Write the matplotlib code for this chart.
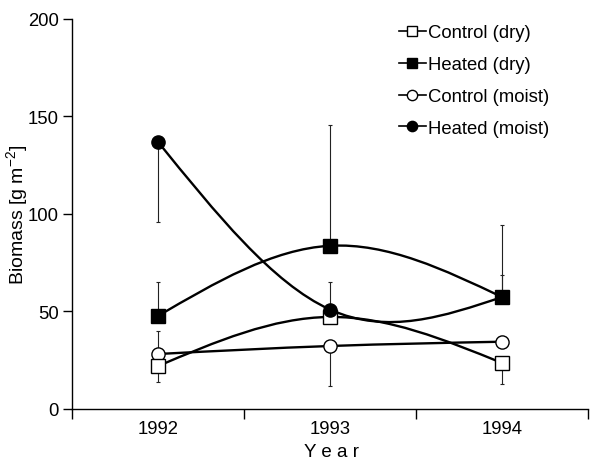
import matplotlib
matplotlib.use('Agg')
import matplotlib.pyplot as plt
import numpy as np
from matplotlib.path import Path
from matplotlib.patches import PathPatch
from matplotlib.lines import Line2D
from matplotlib.ticker import FixedLocator, NullFormatter, FixedFormatter

plt.rcParams['font.family'] = ['Liberation Sans', 'DejaVu Sans']

# ---- data ----
years = ['1992', '1993', '1994']
series_names = ['Control (dry)', 'Heated (dry)', 'Control (moist)', 'Heated (moist)']
control_dry = [22.0, 47.2, 23.6]
heated_dry = [47.7, 83.7, 57.4]
control_moist = [28.2, 32.3, 34.5]
heated_moist = [137.0, 51.0, 57.4]
# asymmetric error bars (lower, upper)
control_dry_lo = [8.2, 0.0, 10.8]
control_dry_hi = [0.0, 0.0, 0.0]
heated_dry_lo = [0.0, 0.0, 0.0]
heated_dry_hi = [17.5, 61.9, 37.0]
control_moist_lo = [0.0, 20.5, 0.0]
control_moist_hi = [11.8, 0.0, 0.0]
heated_moist_lo = [41.0, 0.0, 0.0]
heated_moist_hi = [0.0, 14.0, 11.3]

fig = plt.figure(figsize=(5.91, 4.64), dpi=100)
ax = fig.add_axes([0.1218, 0.1164, 0.8732, 0.8405])

x = np.arange(len(years)) + 0.5


def smooth_path(xs, ys):
    xs = np.asarray(xs, float)
    ys = np.asarray(ys, float)
    n = len(xs)
    h = np.diff(xs)
    # natural cubic spline second derivatives
    A = np.zeros((n, n))
    b = np.zeros(n)
    A[0, 0] = 1
    A[-1, -1] = 1
    for i in range(1, n - 1):
        A[i, i - 1] = h[i - 1]
        A[i, i] = 2 * (h[i - 1] + h[i])
        A[i, i + 1] = h[i]
        b[i] = 6 * ((ys[i + 1] - ys[i]) / h[i] - (ys[i] - ys[i - 1]) / h[i - 1])
    M = np.linalg.solve(A, b)
    m = np.zeros(n)
    for i in range(n - 1):
        m[i] = (ys[i + 1] - ys[i]) / h[i] - h[i] * (2 * M[i] + M[i + 1]) / 6
    m[-1] = (ys[-1] - ys[-2]) / h[-1] + h[-1] * (M[-2] + 2 * M[-1]) / 6
    verts = [(xs[0], ys[0])]
    codes = [Path.MOVETO]
    for i in range(n - 1):
        d = h[i] / 3
        verts += [(xs[i] + d, ys[i] + m[i] * d),
                  (xs[i + 1] - d, ys[i + 1] - m[i + 1] * d),
                  (xs[i + 1], ys[i + 1])]
        codes += [Path.CURVE4] * 3
    return Path(verts, codes)


data = [control_dry, heated_dry, control_moist, heated_moist]
errs = [(control_dry_lo, control_dry_hi), (heated_dry_lo, heated_dry_hi),
        (control_moist_lo, control_moist_hi), (heated_moist_lo, heated_moist_hi)]
markers = ['s', 's', 'o', 'o']
faces = ['white', 'black', 'white', 'black']

for ys, (lo, hi) in zip(data, errs):
    ax.errorbar(x, ys, yerr=[lo, hi], fmt='none', ecolor='#222222',
                elinewidth=0.8, capsize=1.5, capthick=0.8, zorder=1)

for ys in data:
    ax.add_patch(PathPatch(smooth_path(x, ys), facecolor='none',
                           edgecolor='black', lw=1.7, zorder=2,
                           capstyle='round'))

order = [2, 0, 1, 3]
for i in order:
    ax.plot(x, data[i], linestyle='none', marker=markers[i], ms=9.5,
            mfc=faces[i], mec='black', mew=1.0, zorder=3)

handles = [Line2D([], [], color='black', lw=1.2, marker=mk, ms=9.5,
                  mfc=fc, mec='black', mew=1.0)
           for mk, fc in zip(markers, faces)]
leg = ax.legend(handles, series_names, loc='upper left',
                bbox_to_anchor=(0.619, 1.005), frameon=False, fontsize=13.3,
                handlelength=1.45, handletextpad=0.12, labelspacing=0.8,
                markerscale=0.78, borderaxespad=0.0)

ax.set_xlim(0, 3)
ax.set_ylim(0, 200)
ax.spines['top'].set_visible(False)
ax.spines['right'].set_visible(False)
ax.spines['left'].set_linewidth(1.0)
ax.spines['bottom'].set_linewidth(1.0)

ax.set_yticks([0, 50, 100, 150, 200])
ax.tick_params(axis='y', direction='out', length=6.5, width=1.0,
               labelsize=13.3, pad=3)
ax.xaxis.set_major_locator(FixedLocator([0, 1, 2, 3]))
ax.xaxis.set_major_formatter(NullFormatter())
ax.xaxis.set_minor_locator(FixedLocator(list(x)))
ax.xaxis.set_minor_formatter(FixedFormatter(years))
ax.tick_params(axis='x', which='major', direction='out', length=7.5, width=1.0)
ax.tick_params(axis='x', which='minor', length=0, labelsize=13.3, pad=8)

ax.set_ylabel(r'Biomass [g m$^{\mathregular{-2}}$]', fontsize=14, labelpad=2)
ax.yaxis.set_label_coords(-0.080, 0.5)
fig.text(331 / 591, 1 - 453 / 464, 'Y e a r', ha='center', va='center',
         fontsize=13.5)

fig.savefig('out.png', dpi=100, facecolor='white')
